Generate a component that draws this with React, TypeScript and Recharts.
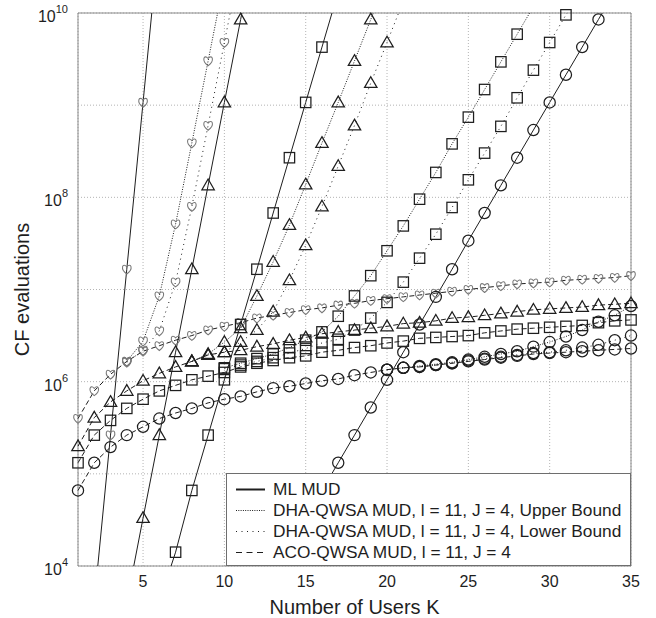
import { LineChart, Line, XAxis, YAxis, CartesianGrid, ReferenceArea } from 'recharts'

// x axis: number of users K
const kTicks = [5, 10, 15, 20, 25, 30, 35]
// y axis: decades of CF evaluations (labels only on even exponents)
const decades = [1e4, 1e5, 1e6, 1e7, 1e8, 1e9, 1e10]

// all values below are log10(CF evaluations),
// first entry belongs to K = *Start

// ML MUD (solid)
const mlCircleStart = 13
const mlCircle = [3.91, 4.21, 4.52, 4.82, 5.12, 5.42, 5.72, 6.02, 6.32, 6.62, 6.92, 7.22, 7.53, 7.83, 8.13, 8.43, 8.73, 9.03, 9.33, 9.63, 9.93, 10.23]
const mlSquareStart = 6
const mlSquare = [3.61, 4.15, 4.82, 5.42, 6.02, 6.62, 7.22, 7.83, 8.43, 9.03, 9.63, 10.23]
const mlTriangleStart = 4
const mlTriangle = [3.61, 4.52, 5.42, 6.32, 7.22, 8.13, 9.03, 9.93, 10.84]
const mlHeartStart = 2
const mlHeart = [3.61, 5.42, 7.22, 9.03, 10.84]

// DHA-QWSA upper bound (dense dots)
const upCircleStart = 20
const upCircle = [6.13, 6.15, 6.17, 6.19, 6.21, 6.24, 6.27, 6.3, 6.33, 6.38, 6.43, 6.49, 6.56, 6.65, 6.72, 6.82]
const upSquareStart = 10
const upSquare = [6.15, 6.2, 6.25, 6.3, 6.37, 6.45, 6.54, 6.71, 6.93, 7.15, 7.42, 7.69, 7.98, 8.27, 8.58, 8.87, 9.17, 9.47, 9.77, 10.07]
const upTriangleStart = 8
const upTriangle = [6.22, 6.3, 6.43, 6.58, 6.93, 7.3, 7.7, 8.14, 8.59, 9.03, 9.48, 9.93, 10.38]
const upHeartStart = 4
const upHeart = [6.22, 6.44, 6.93, 7.71, 8.59, 9.48, 10.37]

// DHA-QWSA lower bound (sparse dots)
const loCircleStart = 20
const loCircle = [6.13, 6.15, 6.16, 6.18, 6.2, 6.23, 6.25, 6.27, 6.29, 6.31, 6.32, 6.34, 6.37, 6.4, 6.45, 6.5]
const loSquareStart = 10
const loSquare = [6.14, 6.18, 6.22, 6.26, 6.31, 6.36, 6.42, 6.46, 6.56, 6.69, 6.86, 7.08, 7.34, 7.6, 7.89, 8.19, 8.48, 8.77, 9.08, 9.38, 9.68, 9.98, 10.28]
const loTriangleStart = 8
const loTriangle = [6.22, 6.29, 6.32, 6.43, 6.56, 6.76, 7.1, 7.48, 7.9, 8.34, 8.78, 9.24, 9.68, 10.13]
const loHeartStart = 4
const loHeart = [6.21, 6.34, 6.55, 7.08, 7.9, 8.78, 9.68, 10.58]

// ACO-QWSA (dashed), K = 1..35
const acoCircle = [4.82, 5.12, 5.29, 5.42, 5.51, 5.6, 5.66, 5.71, 5.77, 5.81, 5.84, 5.89, 5.93, 5.95, 5.98, 6.01, 6.03, 6.07, 6.1, 6.13, 6.15, 6.16, 6.18, 6.2, 6.22, 6.24, 6.26, 6.28, 6.3, 6.31, 6.32, 6.33, 6.34, 6.35, 6.36]
const acoSquare = [5.12, 5.42, 5.58, 5.71, 5.81, 5.9, 5.96, 6.02, 6.06, 6.1, 6.16, 6.2, 6.23, 6.26, 6.28, 6.32, 6.34, 6.37, 6.39, 6.42, 6.44, 6.47, 6.48, 6.49, 6.5, 6.53, 6.55, 6.57, 6.58, 6.59, 6.6, 6.61, 6.64, 6.66, 6.67]
const acoTriangle = [5.3, 5.61, 5.78, 5.9, 6.01, 6.09, 6.16, 6.22, 6.29, 6.32, 6.34, 6.38, 6.41, 6.45, 6.48, 6.52, 6.54, 6.56, 6.58, 6.6, 6.63, 6.64, 6.66, 6.69, 6.7, 6.72, 6.74, 6.76, 6.78, 6.79, 6.8, 6.81, 6.83, 6.84, 6.85]
const acoHeart = [5.6, 5.9, 6.08, 6.22, 6.33, 6.39, 6.45, 6.5, 6.56, 6.6, 6.64, 6.69, 6.72, 6.75, 6.78, 6.8, 6.83, 6.85, 6.88, 6.9, 6.92, 6.94, 6.96, 6.98, 7.0, 7.02, 7.04, 7.06, 7.07, 7.08, 7.1, 7.11, 7.12, 7.13, 7.15]

const legendNames = [
  'ML MUD',
  'DHA-QWSA MUD, l = 11, J = 4, Upper Bound',
  'DHA-QWSA MUD, l = 11, J = 4, Lower Bound',
  'ACO-QWSA MUD, l = 11, J = 4',
]

const DASH: Record<string, string | undefined> = { ml: undefined, up: '1 1.5', lo: '1 4', aco: '5 3' }
const FONT = '"Liberation Sans", Arial, Helvetica, sans-serif'
const INK = '#1e1e1e'
const Y_MIN = 1e4
const Y_MAX = 1e10

const toData = (start: number, exps: number[]) => exps.map((e, i) => ({ k: start + i, v: Math.pow(10, e) }))

const series = [
  { id: 'aco-c', kind: 'aco', marker: 'circle', data: toData(1, acoCircle) },
  { id: 'aco-s', kind: 'aco', marker: 'square', data: toData(1, acoSquare) },
  { id: 'aco-t', kind: 'aco', marker: 'triangle', data: toData(1, acoTriangle) },
  { id: 'aco-h', kind: 'aco', marker: 'heart', data: toData(1, acoHeart) },
  { id: 'lo-c', kind: 'lo', marker: 'circle', data: toData(loCircleStart, loCircle) },
  { id: 'lo-s', kind: 'lo', marker: 'square', data: toData(loSquareStart, loSquare) },
  { id: 'lo-t', kind: 'lo', marker: 'triangle', data: toData(loTriangleStart, loTriangle) },
  { id: 'lo-h', kind: 'lo', marker: 'heart', data: toData(loHeartStart, loHeart) },
  { id: 'up-c', kind: 'up', marker: 'circle', data: toData(upCircleStart, upCircle) },
  { id: 'up-s', kind: 'up', marker: 'square', data: toData(upSquareStart, upSquare) },
  { id: 'up-t', kind: 'up', marker: 'triangle', data: toData(upTriangleStart, upTriangle) },
  { id: 'up-h', kind: 'up', marker: 'heart', data: toData(upHeartStart, upHeart) },
  { id: 'ml-c', kind: 'ml', marker: 'circle', data: toData(mlCircleStart, mlCircle) },
  { id: 'ml-s', kind: 'ml', marker: 'square', data: toData(mlSquareStart, mlSquare) },
  { id: 'ml-t', kind: 'ml', marker: 'triangle', data: toData(mlTriangleStart, mlTriangle) },
  { id: 'ml-h', kind: 'ml', marker: 'heart', data: toData(mlHeartStart, mlHeart) },
]

const renderMarker = (p: any, marker: string) => {
  const { cx, cy, index } = p
  if (cx == null || cy == null) return <g key={index} />
  if (marker === 'circle')
    return <circle key={index} cx={cx} cy={cy} r={5.6} fill="none" stroke={INK} strokeWidth={1.25} />
  if (marker === 'square')
    return <rect key={index} x={cx - 5.2} y={cy - 5.2} width={10.4} height={10.4} fill="none" stroke={INK} strokeWidth={1.25} />
  if (marker === 'triangle')
    return (
      <path key={index} d={`M${cx},${cy - 6.3}L${cx + 6.2},${cy + 4.4}L${cx - 6.2},${cy + 4.4}Z`}
        fill="none" stroke={INK} strokeWidth={1.25} />
    )
  return (
    <path key={index}
      d={`M${cx},${cy + 4.8}C${cx - 7.2},${cy - 0.4} ${cx - 4},${cy - 7.2} ${cx},${cy - 2.4}C${cx + 4},${cy - 7.2} ${cx + 7.2},${cy - 0.4} ${cx},${cy + 4.8}Z`}
      fill="none" stroke="#777" strokeWidth={1.05} />
  )
}

const YTick = (props: any) => {
  const { x, y, payload } = props
  const exp = Math.round(Math.log10(payload.value))
  if (exp % 2 !== 0) return <g />
  return (
    <text x={x} y={y + 3} textAnchor="end" dominantBaseline="central" fontFamily={FONT} fontSize={16} fill={INK}>
      <tspan>10</tspan>
      <tspan dy={-7} fontSize={11}>{exp}</tspan>
    </text>
  )
}

const YLabel = (props: any) => {
  const vb = props.viewBox
  const x = vb.x + 22
  const y = vb.y + vb.height / 2
  return (
    <text x={x} y={y} transform={`rotate(-90 ${x} ${y})`} textAnchor="middle" dominantBaseline="central"
      fontFamily={FONT} fontSize={20} fill={INK}>CF evaluations</text>
  )
}

const LegendBox = () => (
  <div style={{
    position: 'absolute', left: 226, top: 473, width: 405, height: 93, boxSizing: 'border-box',
    border: '1px solid #6e6e6e', background: '#fff', fontFamily: FONT, fontSize: 17.3, color: INK,
    paddingTop: 5,
  }}>
    {['ml', 'up', 'lo', 'aco'].map((kind, i) => (
      <div key={kind} style={{ height: 21, display: 'flex', alignItems: 'center', whiteSpace: 'nowrap' }}>
        <svg width={46} height={21} style={{ flex: 'none' }}>
          <line x1={9} y1={10.5} x2={38} y2={10.5} stroke={INK} strokeWidth={kind === 'ml' ? 2 : 1}
            strokeDasharray={kind === 'aco' ? '6 4.5' : kind === 'lo' ? '1 4.5' : kind === 'up' ? '1 1.3' : undefined} />
        </svg>
        <span>{legendNames[i]}</span>
      </div>
    ))}
  </div>
)

export default function App() {
  return (
    <div style={{ position: 'absolute', left: 0, top: 0, width: 656, height: 618, background: '#fff' }}>
      <LineChart width={656} height={618} margin={{ top: 13, right: 25, left: 0, bottom: 0 }}>
        <CartesianGrid stroke="#b4b4b4" strokeDasharray="1 2" yAxisId="main" />
        <XAxis type="number" dataKey="k" domain={[1, 35]} ticks={kTicks} height={52}
          axisLine={false} tickLine={false} tickSize={0} tickMargin={10}
          tick={{ fontFamily: FONT, fontSize: 16, fill: INK }}
          label={{ value: 'Number of Users K', position: 'insideBottom', offset: 4, fontFamily: FONT, fontSize: 20, fill: INK }} />
        <YAxis yAxisId="main" type="number" dataKey="v" scale="log" domain={[Y_MIN, Y_MAX]} ticks={decades} allowDataOverflow width={78}
          axisLine={false} tickLine={false} tickSize={0} tickMargin={10} tick={<YTick />} label={<YLabel />} />
        {/* same range, no overflow: markers are not clipped at the box edge */}
        <YAxis yAxisId="mk" type="number" dataKey="v" scale="log" domain={[Y_MIN, Y_MAX]} hide />
        <ReferenceArea yAxisId="main" x1={1} x2={35} y1={Y_MIN} y2={Y_MAX} fill="none" stroke="#8a8a8a" strokeWidth={1} />
        {series.map((s) => (
          <Line key={s.id} yAxisId="main" data={s.data} dataKey="v" type="linear" stroke={INK} strokeWidth={1}
            strokeDasharray={DASH[s.kind]} dot={false} activeDot={false} isAnimationActive={false} />
        ))}
        {series.map((s) => (
          <Line key={`${s.id}-mk`} yAxisId="mk" data={s.data.filter((d) => d.v >= Y_MIN && d.v <= Y_MAX)}
            dataKey="v" type="linear" stroke="none" dot={(p: any) => renderMarker(p, s.marker)} activeDot={false}
            isAnimationActive={false} />
        ))}
      </LineChart>
      <LegendBox />
    </div>
  )
}
